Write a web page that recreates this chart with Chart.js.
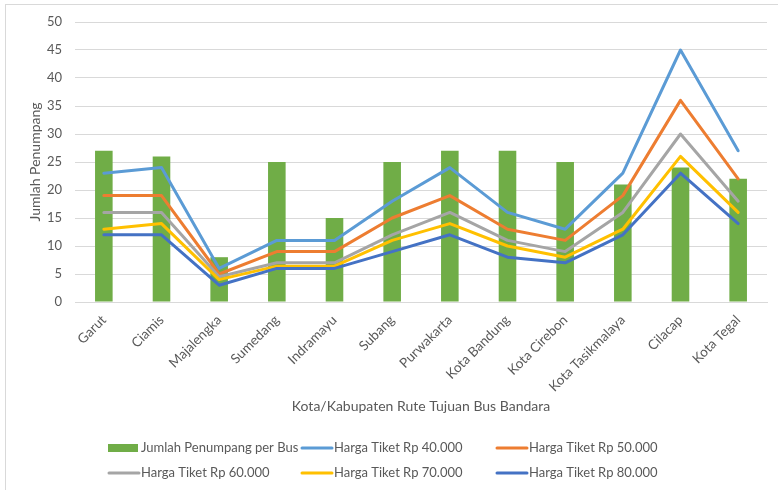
<!DOCTYPE html>
<html>
<head>
<meta charset="utf-8">
<title>Jumlah Penumpang per Rute Bus Bandara</title>
<script src="https://cdn.jsdelivr.net/npm/chart.js@4"></script>
<style>
  html, body { margin: 0; padding: 0; background: #ffffff; }
  #wrap { position: relative; width: 778px; height: 490px; }
</style>
</head>
<body>
<div id="wrap"><canvas id="chart" width="778" height="490"></canvas></div>
<script>
// Destination routes of the airport bus
const categories = ['Garut', 'Ciamis', 'Majalengka', 'Sumedang', 'Indramayu', 'Subang',
  'Purwakarta', 'Kota Bandung', 'Kota Cirebon', 'Kota Tasikmalaya', 'Cilacap', 'Kota Tegal'];

// Passengers per bus (bars)
const penumpangPerBus = [27, 26, 8, 25, 15, 25, 27, 27, 25, 21, 24, 22];

// Passenger estimates for each ticket price (lines)
const harga40 = [23, 24, 6, 11, 11, 18, 24, 16, 13, 23, 45, 27];
const harga50 = [19, 19, 5, 9, 9, 15, 19, 13, 11, 19, 36, 22];
const harga60 = [16, 16, 4.5, 7, 7, 12, 16, 11, 9, 16, 30, 18];
const harga70 = [13, 14, 4, 6.4, 6.4, 11, 14, 10, 8, 13, 26, 16];
const harga80 = [12, 12, 3, 6, 6, 9, 12, 8, 7, 12, 23, 14];

// Y axis ticks
const yTicks = [0, 5, 10, 15, 20, 25, 30, 35, 40, 45, 50];

const seriesLabels = ['Jumlah Penumpang per Bus', 'Harga Tiket Rp 40.000', 'Harga Tiket Rp 50.000',
  'Harga Tiket Rp 60.000', 'Harga Tiket Rp 70.000', 'Harga Tiket Rp 80.000'];

const FONT = 'Lato, "Open Sans", sans-serif';
const TEXT = '#595959';
const GRID = '#d9d9d9';

function lineSet(label, data, color, order) {
  return {
    type: 'line', label, data, order,
    borderColor: color, backgroundColor: color,
    borderWidth: 3, pointRadius: 0, pointHoverRadius: 0,
    tension: 0, fill: false,
    borderJoinStyle: 'round', borderCapStyle: 'round'
  };
}

// Frame around the chart area
const framePlugin = {
  id: 'frame',
  beforeDraw(chart) {
    const ctx = chart.ctx;
    ctx.save();
    ctx.fillStyle = '#ffffff';
    ctx.fillRect(0, 0, chart.width, chart.height);
    ctx.strokeStyle = GRID;
    ctx.lineWidth = 1;
    ctx.strokeRect(5.5, 4.5, 800, 520);
    ctx.restore();
  }
};

// Three-column legend under the axis title
const gridLegendPlugin = {
  id: 'gridLegend',
  afterDraw(chart) {
    const ctx = chart.ctx;
    const cols = [108, 301, 496];
    const rows = [448, 473];
    ctx.save();
    ctx.font = '13px ' + FONT;
    ctx.fillStyle = TEXT;
    ctx.textBaseline = 'middle';
    chart.data.datasets.forEach((ds, i) => {
      const x = cols[i % 3];
      const y = rows[Math.floor(i / 3)];
      if (ds.type === 'bar') {
        ctx.fillStyle = ds.backgroundColor;
        ctx.fillRect(x, y - 4, 30, 8);
      } else {
        ctx.strokeStyle = ds.borderColor;
        ctx.lineWidth = 3;
        ctx.lineCap = 'round';
        ctx.beginPath();
        ctx.moveTo(x + 1, y);
        ctx.lineTo(x + 31, y);
        ctx.stroke();
      }
      ctx.fillStyle = TEXT;
      ctx.textAlign = 'left';
      ctx.fillText(ds.label, x + 33, y);
    });
    ctx.restore();
  }
};

new Chart(document.getElementById('chart'), {
  data: {
    labels: categories,
    datasets: [
      {
        type: 'bar', label: seriesLabels[0], data: penumpangPerBus, order: 6,
        backgroundColor: '#70ad47', borderWidth: 0,
        barPercentage: 0.305, categoryPercentage: 1
      },
      lineSet(seriesLabels[1], harga40, '#5b9bd5', 5),
      lineSet(seriesLabels[2], harga50, '#ed7d31', 4),
      lineSet(seriesLabels[3], harga60, '#a5a5a5', 3),
      lineSet(seriesLabels[4], harga70, '#ffc000', 2),
      lineSet(seriesLabels[5], harga80, '#4472c4', 1)
    ]
  },
  options: {
    responsive: false,
    animation: false,
    events: [],
    layout: { padding: { top: 22, left: 0, right: 11, bottom: 70 } },
    plugins: {
      legend: { display: false },
      title: { display: false },
      tooltip: { enabled: false }
    },
    scales: {
      x: {
        offset: true,
        grid: { display: false, drawTicks: false },
        border: { display: true, color: GRID, width: 1 },
        ticks: {
          autoSkip: false, maxRotation: 45, minRotation: 45, padding: 10,
          color: TEXT, font: { family: FONT, size: 13.5 }
        },
        title: {
          display: true, text: 'Kota/Kabupaten Rute Tujuan Bus Bandara',
          color: TEXT, font: { family: FONT, size: 14 },
          padding: { top: 0, bottom: 5 }
        },
        afterFit(scale) { scale.height = 118; }
      },
      y: {
        min: 0, max: 50,
        afterBuildTicks(scale) { scale.ticks = yTicks.map(v => ({ value: v })); },
        grid: { color: GRID, lineWidth: 1, drawTicks: false },
        border: { display: false },
        ticks: {
          padding: 13, color: TEXT, font: { family: FONT, size: 13 }
        },
        title: {
          display: true, text: 'Jumlah Penumpang',
          color: TEXT, font: { family: FONT, size: 14 },
          padding: { top: 27, bottom: 0 }
        },
        afterFit(scale) { scale.width = 75; }
      }
    }
  },
  plugins: [framePlugin, gridLegendPlugin]
});
</script>
</body>
</html>
